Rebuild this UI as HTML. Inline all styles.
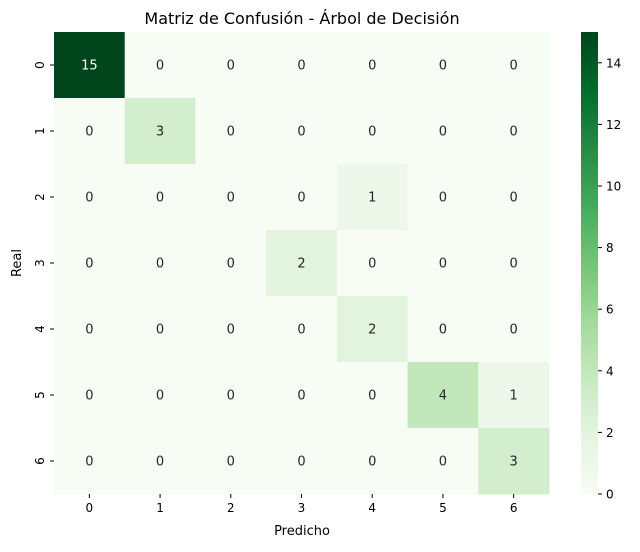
<!DOCTYPE html>
<html><head><meta charset="utf-8"><style>
body{margin:0;background:#fff;font-family:"Liberation Sans","DejaVu Sans",sans-serif;}
svg text{font-family:"DejaVu Sans","Liberation Sans",sans-serif;}
</style></head><body>
<svg id="chart" width="640" height="547" xmlns="http://www.w3.org/2000/svg">
<defs><linearGradient id="cbg" x1="0" y1="1" x2="0" y2="0">
<stop offset="0" stop-color="#f7fcf5"/><stop offset="0.125" stop-color="#e5f5e0"/><stop offset="0.25" stop-color="#c7e9c0"/><stop offset="0.375" stop-color="#a1d99b"/><stop offset="0.5" stop-color="#74c476"/><stop offset="0.625" stop-color="#41ab5d"/><stop offset="0.75" stop-color="#238b45"/><stop offset="0.875" stop-color="#006d2c"/><stop offset="1" stop-color="#00441b"/>
</linearGradient></defs>
<text x="302" y="24" font-size="16" text-anchor="middle">Matriz de Confusión - Árbol de Decisión</text>
<g id="cells"></g>
<text x="302" y="535" font-size="13" text-anchor="middle">Predicho</text>
<text x="21" y="263" font-size="13" text-anchor="middle" transform="rotate(-90 21 263)">Real</text>
<rect x="581" y="32" width="17" height="462" fill="url(#cbg)"/>
<g id="cbticks"></g>
</svg>
<script>
const labels=["0","1","2","3","4","5","6"];
const matrix=[
[15,0,0,0,0,0,0],
[0,3,0,0,0,0,0],
[0,0,0,0,1,0,0],
[0,0,0,2,0,0,0],
[0,0,0,0,2,0,0],
[0,0,0,0,0,4,1],
[0,0,0,0,0,0,3]];
const cbTicks=[0,2,4,6,8,10,12,14];
const vmax=15;
const NS="http://www.w3.org/2000/svg";
const X0=54,Y0=32,W=495,H=462,n=labels.length,cw=W/n,ch=H/n;
const stops=["#f7fcf5","#e5f5e0","#c7e9c0","#a1d99b","#74c476","#41ab5d","#238b45","#006d2c","#00441b"].map(h=>[1,3,5].map(i=>parseInt(h.substr(i,2),16)));
function color(v){let t=Math.max(0,Math.min(1,v/vmax))*8;let i=Math.min(7,Math.floor(t)),f=t-i;
const c=stops[i].map((a,k)=>Math.round(a+(stops[i+1][k]-a)*f));return `rgb(${c})`;}
function el(tag,attrs,parent){const e=document.createElementNS(NS,tag);for(const k in attrs)e.setAttribute(k,attrs[k]);parent.appendChild(e);return e;}
const g=document.getElementById('cells');
matrix.forEach((row,r)=>row.forEach((v,c)=>{
 const rect=el('rect',{x:X0+c*cw,y:Y0+r*ch,width:cw+0.5,height:ch+0.5,fill:color(v)},g);
 
 
 const t=el('text',{x:X0+(c+.5)*cw,y:Y0+(r+.5)*ch+4.5,'font-size':13,'text-anchor':'middle',fill:v/vmax>0.5?'#fff':'#262626'},g);
 t.textContent=v;
 
 
}));
labels.forEach((l,i)=>{
 const x=X0+(i+.5)*cw;
 el('line',{x1:x,x2:x,y1:Y0+H,y2:Y0+H+4,stroke:'#000'},g);
 const t=el('text',{x:x,y:Y0+H+18,'font-size':12,'text-anchor':'middle'},g);t.textContent=l;
 
 
 const y=Y0+(i+.5)*ch;
 el('line',{x1:X0-4,x2:X0,y1:y,y2:y,stroke:'#000'},g);
 const ty=el('text',{x:X0-10,y:y,'font-size':12,'text-anchor':'middle',transform:`rotate(-90 ${X0-10} ${y})`},g);ty.textContent=l;
 
 
});
const cb=document.getElementById('cbticks');
cbTicks.forEach(v=>{
 const y=494-v/vmax*462;
 el('line',{x1:598,x2:602,y1:y,y2:y,stroke:'#000'},cb);
 const t=el('text',{x:606,y:y+4.5,'font-size':12},cb);t.textContent=v;
 
 
});
</script>
</body></html>
